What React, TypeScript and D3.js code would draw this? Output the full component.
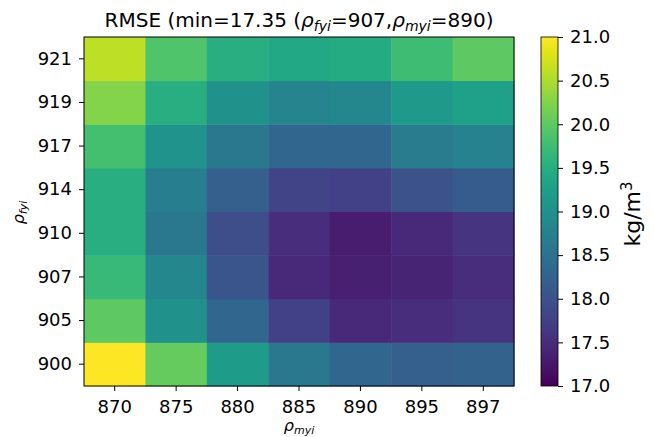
import { useEffect, useRef } from "react";
import * as d3 from "d3";

const myi = ["870", "875", "880", "885", "890", "895", "897"];
const fyi = ["900", "905", "907", "910", "914", "917", "919", "921"];

// RMSE values, one row per fyi (bottom to top), one column per myi
const rmse900 = [21.0, 20.05, 19.2, 18.6, 18.3, 18.2, 18.25];
const rmse905 = [20.0, 19.0, 18.3, 17.75, 17.45, 17.5, 17.6];
const rmse907 = [19.7, 18.85, 18.05, 17.45, 17.35, 17.4, 17.5];
const rmse910 = [19.5, 18.6, 17.95, 17.5, 17.3, 17.45, 17.6];
const rmse914 = [19.5, 18.7, 18.2, 17.8, 17.75, 18.0, 18.15];
const rmse917 = [19.8, 19.05, 18.6, 18.3, 18.3, 18.65, 18.75];
const rmse919 = [20.25, 19.5, 19.0, 18.8, 18.85, 19.15, 19.25];
const rmse921 = [20.6, 19.9, 19.5, 19.4, 19.45, 19.75, 20.0];
const rows = [rmse900, rmse905, rmse907, rmse910, rmse914, rmse917, rmse919, rmse921];

const cbTicks = [17.0, 17.5, 18.0, 18.5, 19.0, 19.5, 20.0, 20.5, 21.0];

function App() {
  const ref = useRef<SVGSVGElement>(null);

  useEffect(() => {
    const svg = d3.select(ref.current);
    svg.selectAll("*").remove();
    const font = "DejaVu Sans, sans-serif";

    const left = 84, right = 514, top = 37, bottom = 386;
    const x = d3.scaleBand().domain(myi).range([left, right]);
    const y = d3.scaleBand().domain(fyi).range([bottom, top]);
    const color = d3.scaleSequential(d3.interpolateViridis).domain([17, 21]);

    const cells = rows.flatMap((r, i) => r.map((v, j) => ({ f: fyi[i], m: myi[j], v })));
    svg.append("g")
      .selectAll("rect")
      .data(cells)
      .join("rect")
      .attr("x", (d) => x(d.m)!)
      .attr("y", (d) => y(d.f)!)
      .attr("width", x.bandwidth() + 0.5)
      .attr("height", y.bandwidth() + 0.5)
      .attr("fill", (d) => color(d.v));

    svg.append("rect")
      .attr("x", left).attr("y", top)
      .attr("width", right - left).attr("height", bottom - top)
      .attr("fill", "none").attr("stroke", "#000").attr("stroke-width", 1);

    const xa = svg.append("g")
      .attr("transform", `translate(0,${bottom})`)
      .call(d3.axisBottom(x).tickSize(5).tickPadding(9));
    xa.select(".domain").remove();
    xa.selectAll("line").attr("stroke-width", 1);
    xa.selectAll("text").attr("font-size", 18).attr("font-family", font).attr("fill", "#000");

    const ya = svg.append("g")
      .attr("transform", `translate(${left},0)`)
      .call(d3.axisLeft(y).tickSize(5).tickPadding(7));
    ya.select(".domain").remove();
    ya.selectAll("text").attr("font-size", 18).attr("font-family", font).attr("fill", "#000");

    // title
    const title = svg.append("text")
      .attr("x", (left + right) / 2).attr("y", 27)
      .attr("text-anchor", "middle")
      .attr("font-size", 20).attr("font-family", font);
    title.append("tspan").text("RMSE (min=17.35 (");
    title.append("tspan").attr("font-style", "italic").text("ρ");
    title.append("tspan").attr("font-style", "italic").attr("font-size", 14).attr("dy", 4).text("fyi");
    title.append("tspan").attr("dy", -4).text("=907,");
    title.append("tspan").attr("font-style", "italic").text("ρ");
    title.append("tspan").attr("font-style", "italic").attr("font-size", 14).attr("dy", 4).text("myi");
    title.append("tspan").attr("dy", -4).text("=890)");

    // x label
    const xl = svg.append("text")
      .attr("x", (left + right) / 2).attr("y", 431)
      .attr("text-anchor", "middle").attr("font-size", 16).attr("font-family", font);
    xl.append("tspan").attr("font-style", "italic").text("ρ");
    xl.append("tspan").attr("font-style", "italic").attr("font-size", 11).attr("dy", 3).text("myi");

    // y label
    const yl = svg.append("text")
      .attr("transform", `translate(24,${(top + bottom) / 2 + 1}) rotate(-90)`)
      .attr("text-anchor", "middle").attr("font-size", 16).attr("font-family", font);
    yl.append("tspan").attr("font-style", "italic").text("ρ");
    yl.append("tspan").attr("font-style", "italic").attr("font-size", 11).attr("dy", 3).text("fyi");

    // colorbar
    const cbx = 541, cbw = 17;
    const cy = d3.scaleLinear().domain([17, 21]).range([bottom, top]);
    const defs = svg.append("defs");
    const grad = defs.append("linearGradient").attr("id", "vir")
      .attr("x1", 0).attr("y1", 1).attr("x2", 0).attr("y2", 0);
    d3.range(0, 1.0001, 0.05).forEach((t) => {
      grad.append("stop").attr("offset", t).attr("stop-color", d3.interpolateViridis(t));
    });
    svg.append("rect")
      .attr("x", cbx).attr("y", top).attr("width", cbw).attr("height", bottom - top)
      .attr("fill", "url(#vir)").attr("stroke", "#000").attr("stroke-width", 0.8);
    const ca = svg.append("g")
      .attr("transform", `translate(${cbx + cbw},0)`)
      .call(d3.axisRight(cy).tickValues(cbTicks).tickFormat(d3.format(".1f")).tickSize(5).tickPadding(7));
    ca.select(".domain").remove();
    ca.selectAll("text").attr("font-size", 18).attr("font-family", font).attr("fill", "#000");

    const cl = svg.append("text")
      .attr("transform", `translate(640,214) rotate(-90)`)
      .attr("text-anchor", "middle").attr("font-size", 22).attr("font-family", font);
    cl.append("tspan").text("kg/m");
    cl.append("tspan").attr("font-size", 15).attr("dy", -8).text("3");
  }, []);

  return (
    <svg ref={ref} width={654} height={437} style={{ position: "absolute", left: 0, top: 0, background: "#fff" }} />
  );
}

export default App;
